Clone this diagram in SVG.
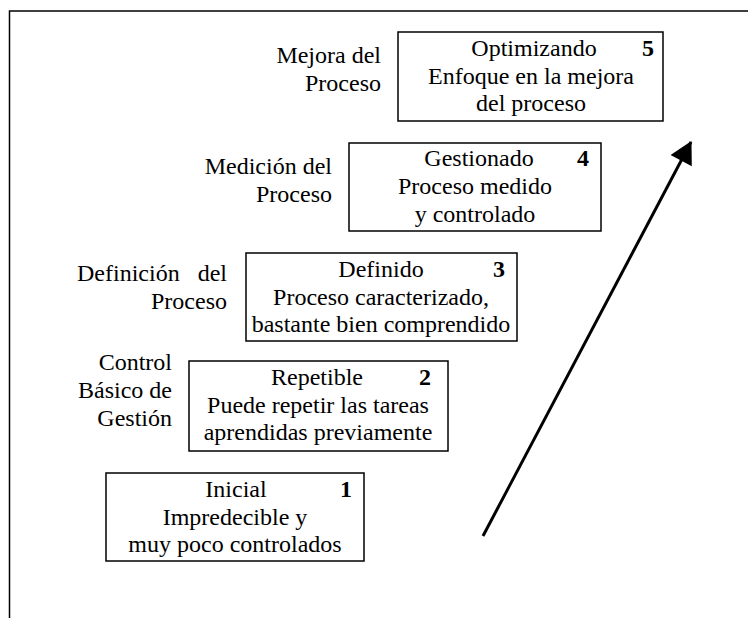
<svg xmlns="http://www.w3.org/2000/svg" width="748" height="618" viewBox="0 0 748 618">
<style>
text{font-family:"Liberation Serif","DejaVu Serif",serif;font-size:24px;fill:#000}
.c{text-anchor:middle}
.r{text-anchor:end}
.n{font-weight:bold;text-anchor:end}
.box{fill:#fff;stroke:#000;stroke-width:1.5}
.frame{fill:none;stroke:#000;stroke-width:1.5}
</style>
<defs>
<marker id="ah" markerUnits="userSpaceOnUse" markerWidth="24" markerHeight="24" viewBox="0 0 22 24" refX="21" refY="12" orient="auto">
<path d="M0,0 L22,12 L0,24 Z" fill="#000"/>
</marker>
</defs>
<g id="frame">
<path class="frame" d="M9.5,618 V11 H748"/>
</g>
<g id="labels">
<text class="r" x="381" y="63">Mejora del</text>
<text class="r" x="381" y="91">Proceso</text>
<text class="r" x="332" y="174">Medición del</text>
<text class="r" x="332" y="202">Proceso</text>
<text x="77" y="281">Definición</text>
<text class="r" x="227" y="281">del</text>
<text class="r" x="227" y="309">Proceso</text>
<text class="r" x="172" y="370">Control</text>
<text class="r" x="172" y="398">Básico de</text>
<text class="r" x="172" y="426">Gestión</text>
</g>
<g id="node5">
<rect class="box" x="398" y="32" width="265" height="89"/>
<text class="c" x="534" y="56">Optimizando</text>
<text class="n" x="654" y="56">5</text>
<text class="c" x="531" y="84">Enfoque en la mejora</text>
<text class="c" x="531" y="111">del proceso</text>
</g>
<g id="node4">
<rect class="box" x="349" y="143" width="252" height="88"/>
<text class="c" x="479" y="166">Gestionado</text>
<text class="n" x="589" y="166">4</text>
<text class="c" x="475" y="194">Proceso medido</text>
<text class="c" x="475" y="222">y controlado</text>
</g>
<g id="node3">
<rect class="box" x="246" y="253" width="271" height="88"/>
<text class="c" x="381" y="277">Definido</text>
<text class="n" x="505" y="277">3</text>
<text class="c" x="381" y="305">Proceso caracterizado,</text>
<text class="c" x="381" y="332">bastante bien comprendido</text>
</g>
<g id="node2">
<rect class="box" x="189" y="361" width="259" height="90"/>
<text class="c" x="317" y="385">Repetible</text>
<text class="n" x="431" y="385">2</text>
<text class="c" x="318" y="413">Puede repetir las tareas</text>
<text class="c" x="318" y="440">aprendidas previamente</text>
</g>
<g id="node1">
<rect class="box" x="106" y="473" width="258" height="88"/>
<text class="c" x="236" y="497">Inicial</text>
<text class="n" x="352" y="497">1</text>
<text class="c" x="235" y="525">Impredecible y</text>
<text class="c" x="235" y="552">muy poco controlados</text>
</g>
<g id="connectors">
<line x1="483" y1="536" x2="691" y2="142" stroke="#000" stroke-width="3" marker-end="url(#ah)"/>
</g>
</svg>
